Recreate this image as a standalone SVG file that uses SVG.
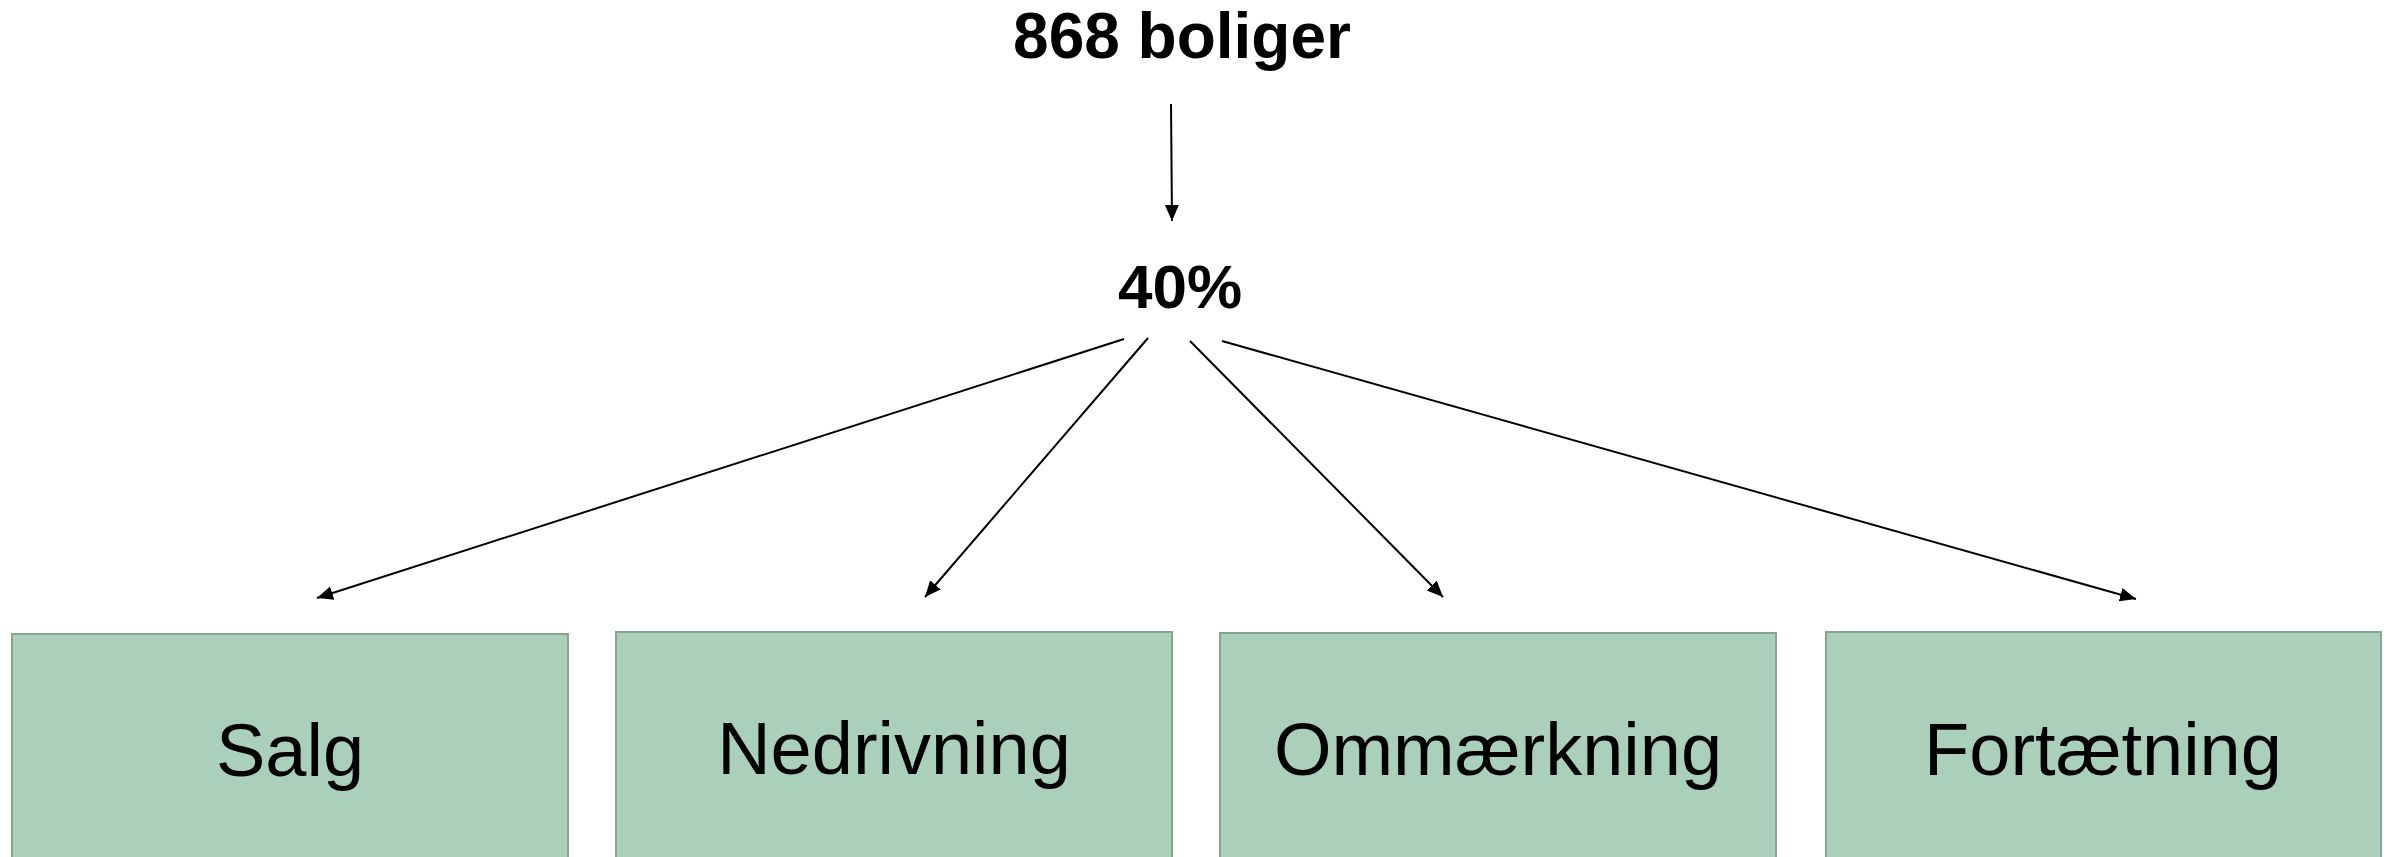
<svg xmlns="http://www.w3.org/2000/svg" width="2395" height="857" viewBox="0 0 2395 857">
  <style>
    .box { fill: #aacfba; stroke: #87a491; stroke-width: 2; }
    .lbl { font-family: "Liberation Sans", Arial, sans-serif; font-size: 74px; fill: #000; text-anchor: middle; }
    .hdr { font-family: "Liberation Sans", Arial, sans-serif; font-size: 62px; font-weight: bold; fill: #000; text-anchor: middle; }
    .conn { stroke: #000; stroke-width: 2; fill: none; marker-end: url(#arr); }
  </style>
  <defs>
    <marker id="arr" markerUnits="userSpaceOnUse" markerWidth="16" markerHeight="16" viewBox="0 0 16 16" refX="16" refY="8" orient="auto">
      <path d="M0,1 L16,8 L0,15 Z" fill="#000"/>
    </marker>
  </defs>
  <rect width="2395" height="857" fill="#fff"/>
  <g id="n-top"><text class="hdr" x="1182" y="58" style="font-size:64px">868 boliger</text></g>
  <g id="n-pct"><text class="hdr" x="1180" y="308">40%</text></g>
  <g id="n-salg"><rect class="box" x="12" y="634" width="556" height="260"/><text class="lbl" x="290" y="776">Salg</text></g>
  <g id="n-nedrivning"><rect class="box" x="616" y="632" width="556" height="260"/><text class="lbl" x="894" y="774">Nedrivning</text></g>
  <g id="n-ommaerkning"><rect class="box" x="1220" y="633" width="556" height="260"/><text class="lbl" x="1498" y="775">Ommærkning</text></g>
  <g id="n-fortaetning"><rect class="box" x="1826" y="632" width="555" height="260"/><text class="lbl" x="2103" y="775">Fortætning</text></g>
  <g id="connectors">
    <line class="conn" x1="1171" y1="104" x2="1172" y2="221"/>
    <line class="conn" x1="1124" y1="339" x2="317" y2="598"/>
    <line class="conn" x1="1148" y1="338" x2="925" y2="597"/>
    <line class="conn" x1="1190" y1="341" x2="1443" y2="597"/>
    <line class="conn" x1="1222" y1="341" x2="2136" y2="599"/>
  </g>
</svg>
